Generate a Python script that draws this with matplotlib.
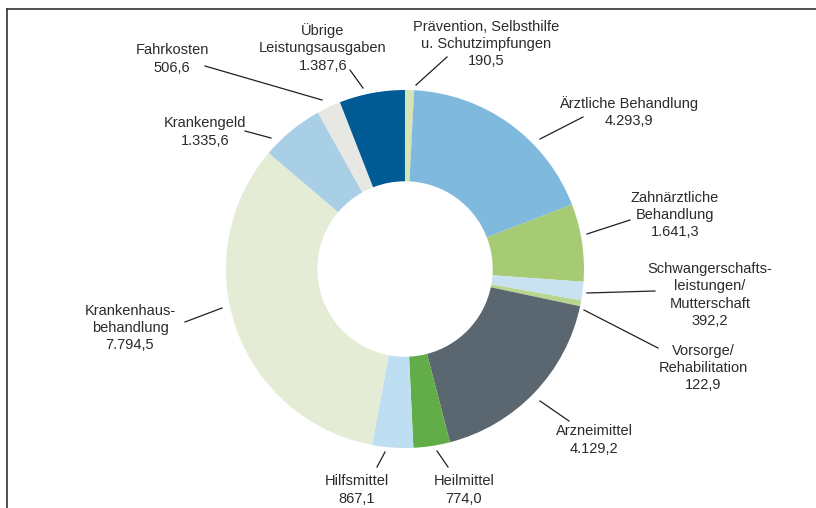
import matplotlib
matplotlib.use("Agg")
import matplotlib.pyplot as plt
from matplotlib.lines import Line2D

plt.rcParams['font.family'] = ['Liberation Sans', 'DejaVu Sans']

categories = ["Prävention, Selbsthilfe\nu. Schutzimpfungen", "Ärztliche Behandlung",
              "Zahnärztliche\nBehandlung", "Schwangerschafts-\nleistungen/\nMutterschaft",
              "Vorsorge/\nRehabilitation", "Arzneimittel", "Heilmittel", "Hilfsmittel",
              "Krankenhaus-\nbehandlung", "Krankengeld", "Fahrkosten",
              "Übrige\nLeistungsausgaben"]
values = [190.5, 4293.9, 1641.3, 392.2, 122.9, 4129.2, 774.0, 867.1, 7794.5, 1335.6, 506.6, 1387.6]
value_labels = ["190,5", "4.293,9", "1.641,3", "392,2", "122,9", "4.129,2", "774,0", "867,1",
                "7.794,5", "1.335,6", "506,6", "1.387,6"]
colors = ["#d5e3b5", "#80b9de", "#a7cb75", "#c8e2f1", "#b8d68d", "#5a6670", "#62ad47",
          "#bedef1", "#e4ecd6", "#a8cfe6", "#e7e7e3", "#005a94"]

W, H = 816, 508
CX, CY, R = 405, 269, 179

# label layout (pixel positions): text center, leader line start, leader line end
layout = [
    ((486, 44), (447, 57), (416, 85)),
    ((629, 112), (583, 117), (540, 139)),
    ((675, 215), (630, 220), (587, 234)),
    ((710, 295), (655, 291), (587, 293)),
    ((703, 368), (658, 348), (584, 310)),
    ((594, 440), (569, 421), (540, 401)),
    ((464, 490), (448, 467), (437, 451)),
    ((357, 490), (377, 467), (385, 452)),
    ((130, 328), (185, 322), (222, 308)),
    ((205, 132), (245, 131), (271, 138)),
    ((172, 59), (205, 66), (322, 100)),
    ((323, 48), (350, 70), (363, 88)),
]

def to_data(p):
    return ((p[0] - CX) / R, (CY - p[1]) / R)

fig = plt.figure(figsize=(W / 100, H / 100), dpi=100)
ax = fig.add_axes([0, 0, 1, 1])
ax.pie(values, colors=colors, startangle=90, counterclock=False, radius=1.0,
       wedgeprops=dict(width=0.51, linewidth=0), center=(0, 0), frame=True)
ax.set_xlim(-CX / R, (W - CX) / R)
ax.set_ylim((CY - H) / R, CY / R)
ax.set_aspect('auto')
ax.axis('off')

for cat, vl, (tc, l0, l1) in zip(categories, value_labels, layout):
    x, y = to_data(tc)
    ax.text(x, y, cat + "\n" + vl, ha='center', va='center', fontsize=10.5,
            color='#2b2b2b', linespacing=1.28)
    a, b = to_data(l0), to_data(l1)
    ax.plot([a[0], b[0]], [a[1], b[1]], color='#231f20', lw=0.9)

# frame lines (left and top)
fig.add_artist(Line2D([7 / W, 7 / W], [0, 1 - 9 / H], color='#333333', lw=1.2,
                      transform=fig.transFigure))
fig.add_artist(Line2D([7 / W, 1], [1 - 9 / H, 1 - 9 / H], color='#333333', lw=1.2,
                      transform=fig.transFigure))

fig.savefig("out.png", dpi=100, facecolor='white')
